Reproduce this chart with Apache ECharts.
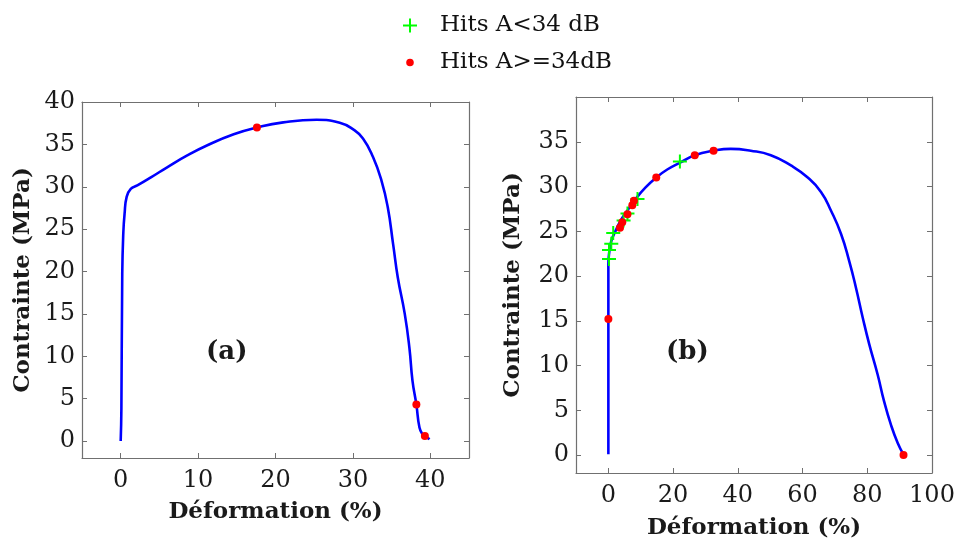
<!DOCTYPE html>
<html>
<head>
<meta charset="utf-8">
<script src="https://cdn.jsdelivr.net/npm/echarts@6/dist/echarts.min.js"></script>
<style>
html,body{margin:0;padding:0;background:#fff;}
#chart{width:956px;height:542px;}
</style>
</head>
<body>
<div id="chart"></div>
<script>
// Panel (a)
const strainA = [0,0.09,0.2,0.34,0.5,0.77,1.3,2.15,3.9,6.0,8.6,11.2,14.6,17.6,21.0,25.3,28.3,30.0,31.3,32.6,33.7,34.5,35.2,35.8,36.7,37.3,37.7,38.2,38.6,39.0,39.4,39.9];
const stressA = [0,3.9,19.7,24.6,26.8,28.8,29.75,30.15,31.1,32.3,33.7,34.9,36.2,37.0,37.6,37.9,37.55,36.8,35.7,33.5,30.7,27.6,23.2,19.3,15.0,11.0,7.1,4.3,1.6,0.8,0.55,0.2];
const highAx = [17.6,38.2,39.3];
const highAy = [37.0,4.3,0.6];

// Panel (b)
const strainB = [0,0,0,0.2,0.9,2.3,3.8,5.85,8.4,11.5,14.8,18.2,22.3,26.7,32.5,37.8,44.0,50.2,56.4,61.6,65.7,68.8,71.9,74.4,76.5,78.6,80.6,83.2,85.2,87.3,89.4,91.2];
const stressB = [0.1,15.7,21.3,22.45,23.9,25.1,26.2,27.3,28.6,29.9,31.0,31.9,32.7,33.5,34.0,34.2,34.0,33.5,32.35,31.0,29.4,27.3,24.7,21.7,18.7,15.35,12.4,9.0,6.0,3.4,1.35,0.05];
const lowBx = [0.2,0.2,0.9,1.5,4.7,5.9,9.0,22.1];
const lowBy = [21.9,22.9,23.6,24.8,26.2,27.0,28.6,32.8];
const highBx = [0,3.6,4.3,5.9,7.4,7.9,14.8,26.7,32.5,91.2];
const highBy = [15.2,25.4,26.0,26.9,27.9,28.4,31.0,33.5,34.0,0];

// Tick labels
const xTicksA = [0,10,20,30,40];
const yTicksA = [0,5,10,15,20,25,30,35,40];
const xTicksB = [0,20,40,60,80,100];
const yTicksB = [0,5,10,15,20,25,30,35];

const nameLow = 'Hits A<34 dB';
const nameHigh = 'Hits A>=34dB';

const zip = (xs, ys) => xs.map((x, i) => [x, ys[i]]);

const serif = 'DejaVu Serif';
const axisColor = '#707070';
const labelColor = '#1a1a1a';
const plusPath = 'path://M6,0H8V6H14V8H8V14H6V8H0V6H6Z';
const dotPath = 'path://M0,0L0.01,0L0.01,0.01Z M14,14L13.99,14L13.99,13.99Z M7,3.2A3.8,3.8 0 1 1 7,10.8A3.8,3.8 0 1 1 7,3.2Z';

function mainX(grid, min, max, ticks, gap) {
  return {
    type: 'value', gridIndex: grid, position: 'bottom', min: min, max: max,
    name: 'Déformation (%)', nameLocation: 'middle', nameGap: gap,
    nameTextStyle: {fontFamily: serif, fontWeight: 'bold', fontSize: 23, color: labelColor},
    axisLine: {show: true, onZero: false, lineStyle: {color: axisColor, width: 1.2}},
    axisTick: {show: true, inside: true, length: 5, customValues: ticks, lineStyle: {color: axisColor}},
    axisLabel: {show: true, customValues: ticks, fontFamily: serif, fontSize: 24, color: labelColor, margin: 11},
    splitLine: {show: false}
  };
}
function mainY(grid, min, max, ticks, gap) {
  return {
    type: 'value', gridIndex: grid, position: 'left', min: min, max: max,
    name: 'Contrainte (MPa)', nameLocation: 'middle', nameGap: gap,
    nameTextStyle: {fontFamily: serif, fontWeight: 'bold', fontSize: 23, color: labelColor},
    axisLine: {show: true, onZero: false, lineStyle: {color: axisColor, width: 1.2}},
    axisTick: {show: true, inside: true, length: 5, customValues: ticks, lineStyle: {color: axisColor}},
    axisLabel: {show: true, customValues: ticks, fontFamily: serif, fontSize: 24, color: labelColor, margin: 7},
    splitLine: {show: false}
  };
}
function boxAxis(kind, grid, min, max, ticks) {
  return {
    type: 'value', gridIndex: grid, position: kind === 'x' ? 'top' : 'right', min: min, max: max,
    axisLine: {show: true, onZero: false, lineStyle: {color: axisColor, width: 1.2}},
    axisTick: {show: true, inside: true, length: 5, customValues: ticks, lineStyle: {color: axisColor}},
    axisLabel: {show: false},
    splitLine: {show: false}
  };
}

const chart = echarts.init(document.getElementById('chart'));
chart.setOption({
  animation: false,
  backgroundColor: '#fff',
  legend: {
    orient: 'vertical', left: 398, top: 9, itemWidth: 50, itemHeight: 14, itemGap: 14,
    textStyle: {fontFamily: serif, fontSize: 23, color: '#111'},
    data: [
      {name: nameLow, icon: plusPath},
      {name: nameHigh, icon: dotPath}
    ]
  },
  grid: [
    {left: 82, top: 102, width: 387, height: 356, outerBoundsMode: 'none', containLabel: false},
    {left: 576, top: 97, width: 356, height: 376, outerBoundsMode: 'none', containLabel: false}
  ],
  xAxis: [
    mainX(0, -5, 45, xTicksA, 43),
    boxAxis('x', 0, -5, 45, xTicksA),
    mainX(1, -10, 100, xTicksB, 44),
    boxAxis('x', 1, -10, 100, xTicksB)
  ],
  yAxis: [
    mainY(0, -2, 40, yTicksA, 47),
    boxAxis('y', 0, -2, 40, yTicksA),
    mainY(1, -2, 40, yTicksB, 51),
    boxAxis('y', 1, -2, 40, yTicksB)
  ],
  graphic: [
    {type: 'text', left: 206, top: 339, style: {text: '(a)', font: 'bold 26px "DejaVu Serif"', fill: labelColor}},
    {type: 'text', left: 666, top: 339, style: {text: '(b)', font: 'bold 26px "DejaVu Serif"', fill: labelColor}}
  ],
  series: [
    {type: 'line', xAxisIndex: 0, yAxisIndex: 0, data: zip(strainA, stressA), showSymbol: false, smooth: 0.5,
     lineStyle: {color: '#0000FF', width: 2.6}, z: 2, silent: true},
    {type: 'scatter', name: nameHigh, xAxisIndex: 0, yAxisIndex: 0, data: zip(highAx, highAy),
     symbol: 'circle', symbolSize: 8, itemStyle: {color: '#FF0000', opacity: 1}, z: 4},
    {type: 'line', xAxisIndex: 2, yAxisIndex: 2, data: zip(strainB, stressB), showSymbol: false, smooth: 0.5,
     lineStyle: {color: '#0000FF', width: 2.6}, z: 2, silent: true},
    {type: 'scatter', name: nameLow, xAxisIndex: 2, yAxisIndex: 2, data: zip(lowBx, lowBy),
     symbol: plusPath, symbolSize: 14, itemStyle: {color: '#00FF00', opacity: 1}, z: 3},
    {type: 'scatter', name: nameHigh, xAxisIndex: 2, yAxisIndex: 2, data: zip(highBx, highBy),
     symbol: 'circle', symbolSize: 8, itemStyle: {color: '#FF0000', opacity: 1}, z: 4}
  ]
});
</script>
</body>
</html>
